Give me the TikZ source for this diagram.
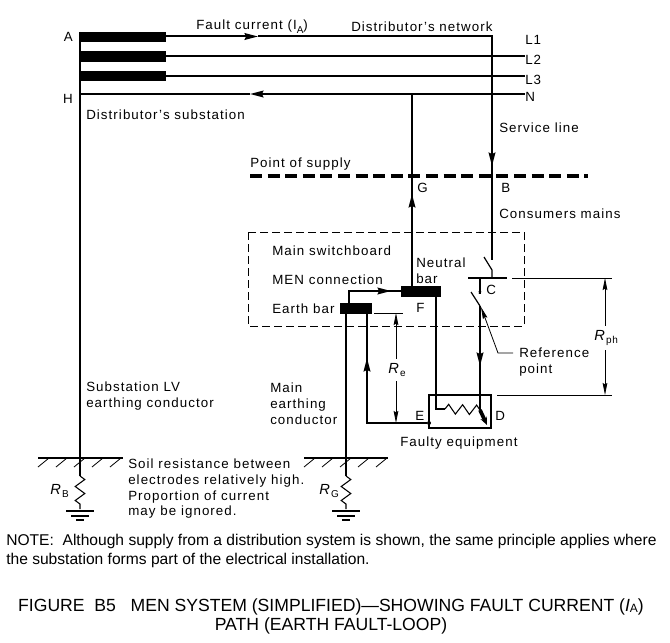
\documentclass[tikz,border=0pt]{standalone}
\usepackage{fontspec}
\setmainfont{Liberation Sans}[LetterSpace=8]
\newfontfamily\notefont{Liberation Sans}
\usetikzlibrary{arrows.meta,decorations.pathmorphing}
\newcommand{\subtxt}[1]{\raisebox{-2.5pt}{\fontsize{7.5}{8}\selectfont #1}}
\begin{document}
\begin{tikzpicture}[x=0.75pt,y=-0.75pt]
\tikzstyle{txt}=[inner sep=0pt,anchor=west,yshift=-0.6pt,font=\fontsize{10}{11.7}\selectfont,align=left];
\tikzstyle{rtxt}=[inner sep=0pt,anchor=west,font=\fontsize{11}{12}\selectfont];
\tikzstyle{notetxt}=[inner sep=0pt,anchor=west,font=\notefont\fontsize{11.7}{14.5}\selectfont,align=left];
\tikzstyle{captxt}=[inner sep=0pt,font=\notefont\fontsize{13.2}{14.3}\selectfont,align=center];
\tikzstyle{bar}=[fill=black,inner sep=0pt];
\tikzstyle{wire}=[line width=1.5pt];
\tikzstyle{fine}=[line width=0.6pt];
\tikzstyle{flow}=[line width=1.5pt,-{Stealth[length=10pt,width=5pt,inset=1pt]}];
\tikzstyle{dim}=[line width=0.6pt,{Stealth[length=9pt,width=3.5pt,inset=1pt]}-{Stealth[length=9pt,width=3.5pt,inset=1pt]}];
\tikzstyle{resist}=[line width=0.8pt,decorate,decoration={zigzag,segment length=10.5pt,amplitude=3.6pt}];
\useasboundingbox (0,0) rectangle (670,642);
% busbars
\node [bar,minimum width=65pt,minimum height=7.5pt] (busA) at (122.5,37) {};
\node [bar,minimum width=65pt,minimum height=8pt] (busB) at (122.5,56.5) {};
\node [bar,minimum width=65pt,minimum height=7.5pt] (busC) at (122.5,76) {};
\coordinate (hN) at (80,94);
\coordinate (top) at (80,32);
\coordinate (gB) at (80,458);
\coordinate (gG) at (346,458);
\node [txt,anchor=east] (lA) at (73,36) {A};
\node [txt,anchor=east] (lH) at (73,98) {H};
\node [txt] (l1) at (525,39) {L1};
\node [txt] (l2) at (525,59) {L2};
\node [txt] (l3) at (525,79) {L3};
\node [txt] (lN) at (525,96) {N};
\node [txt] (fault) at (196,26) {Fault current (I\subtxt{A})};
\node [txt] (network) at (351,26) {Distributor's network};
\node [txt] (subst) at (86,114) {Distributor's substation};
\node [txt] (service) at (499,127) {Service line};
\node [txt] (supply) at (250,163) {Point of supply};
\node [txt] (lG) at (417,187) {G};
\node [txt] (lB) at (501,187) {B};
\node [txt] (mains) at (499,213) {Consumers mains};
\node [txt] (board) at (272,250) {Main switchboard};
\node [txt] (men) at (272,279) {MEN connection};
\node [txt] (ebar) at (272,308) {Earth bar};
\node [txt] (nbar) at (416,270) {Neutral\\bar};
\node [txt] (lC) at (486,289) {C};
\node [txt] (lF) at (416,307) {F};
\node [txt] (lE) at (415,415) {E};
\node [txt] (lD) at (495,415) {D};
\node [txt] (refpt) at (519,361) {Reference\\point};
\node [txt] (faulty) at (400,442) {Faulty equipment};
\node [txt] (lvcond) at (86,395) {Substation LV\\earthing conductor};
\node [txt] (maincond) at (270,403) {Main\\earthing\\conductor};
\node [txt] (soil) at (128,488) {Soil resistance between\\electrodes relatively high.\\Proportion of current\\may be ignored.};
\node [rtxt] (rB) at (50,491) {\textit{R}\subtxt{B}};
\node [rtxt] (rG) at (319,491) {\textit{R}\subtxt{G}};
\node [notetxt] (note) at (6,551) {NOTE:\ \ Although supply from a distribution system is shown, the same principle applies where\\the substation forms part of the electrical installation.};
\node [captxt] (title) at (331,616.5) {FIGURE\ \ B5\ \ \ MEN SYSTEM (SIMPLIFIED)—SHOWING FAULT CURRENT (\textit{I}\raisebox{-1pt}{\fontsize{9}{9}\selectfont A})\\PATH (EARTH FAULT-LOOP)};
% distributor's network
\draw [wire] (top) -- (gB);
\coordinate (t1) at (258,36.5);
\coordinate (corner) at (492,36.5);
\coordinate (t2) at (492,166);
\coordinate (swtop) at (492,260);
\draw [flow] (busA.east |- t1) -- (t1);
\draw [wire] (t1) -- (corner) -- (t2);
\draw [wire] (t2) -- (swtop);
\draw [flow] (corner) -- (t2);
\draw [wire] (busB) -- (l2.west |- busB);
\draw [wire] (busC) -- (l3.west |- busC);
\coordinate (tN) at (250,94);
\coordinate (nj) at (412,94);
\draw [flow] (nj) -- (tN);
\draw [wire] (tN) -- (hN);
\draw [wire] (nj) -- (lN.west |- nj);
% point of supply
\coordinate (ps1) at (250,176);
\coordinate (ps2) at (588,176);
\draw [line width=2.6pt,dash pattern=on 9pt off 4.2pt] (ps1) -- (ps2);
% neutral bar and earth bar
\node [bar,minimum width=30pt,minimum height=8pt] (neutral) at (421,291.5) {};
\node [bar,minimum width=24pt,minimum height=8pt] (earth) at (356,308.5) {};
\coordinate (tG) at (412,194);
\draw [wire] (neutral.north -| nj) -- (nj);
\draw [flow] (neutral.north -| nj) -- (tG);
\draw [fine,dash pattern=on 6pt off 3pt] (248,232) rectangle (524,326);
\coordinate (m1) at (349,291);
\coordinate (tM) at (391,291);
\draw [wire] (earth.north -| m1) -- (m1) -- (neutral.west |- m1);
\draw [flow] (m1) -- (tM);
% equipment
\draw [line width=1.3pt] (429,395) rectangle (491,428);
\node [circle,fill=black,inner sep=0pt,minimum size=3pt] (dotE) at (429,423) {};
\coordinate (nb) at (436,409);
\coordinate (zs) at (445,409);
\coordinate (ze) at (480,410);
\draw [wire] (neutral.south -| nb) -- (nb) -- (zs);
\draw [resist] (zs) -- (ze);
\coordinate (fa) at (480,410);
\coordinate (fb) at (487,425);
\draw [line width=2.8pt,-{Stealth[length=6pt,width=5pt]}] (fa) -- (fb);
% return path
\coordinate (r1) at (367,423);
\coordinate (tR) at (367,358);
\draw [wire] (earth.south -| r1) -- (r1) -- (dotE);
\draw [flow] (r1) -- (tR);
\draw [wire] (earth.south -| gG) -- (gG);
% switches
\coordinate (b1) at (484,257);
\coordinate (b2) at (492,270);
\draw [line width=0.9pt] (b1) -- (b2) -- (492,278);
\coordinate (c1) at (468,278);
\coordinate (c2) at (507,278);
\draw [wire] (c1) -- (c2);
\coordinate (c3) at (480,278);
\coordinate (x1) at (480,294);
\draw [line width=1pt] (c3) -- (x1);
\node [inner sep=0pt,font=\fontsize{7}{7}\selectfont] (star) at (x1) {*};
\coordinate (s1) at (471,292);
\coordinate (s2) at (480,306);
\draw [line width=0.9pt] (s1) -- (s2);
\coordinate (tP) at (480,366);
\draw [wire] (s2) -- (fa);
\draw [flow] (s2) -- (tP);
% dimensions
\coordinate (ph1) at (605,278);
\coordinate (ph2) at (605,395);
\draw [fine] (512,278) -- (612,278);
\draw [fine] (497,395) -- (612,395);
\draw [dim] (ph1) -- (ph2);
\node [rtxt,fill=white,inner ysep=3pt] (rph) at (594,338) {\textit{R}\subtxt{ph}};
\coordinate (re1) at (396,313);
\coordinate (re2) at (396,423);
\draw [fine] (374,313) -- (403,313);
\draw [dim] (re1) -- (re2);
\node [rtxt,fill=white,inner ysep=3pt] (re) at (388,370) {\textit{R}\subtxt{e}};
% reference pointer
\coordinate (rp1) at (513,353);
\coordinate (rp2) at (498,353);
\coordinate (rp3) at (481,307);
\draw [fine,-{Stealth[length=9pt,width=3.5pt,inset=1pt]}] (rp1) -- (rp2) -- (rp3);
% earth electrodes
\draw [wire] (38,457.5) -- (123,457.5);
\draw [wire] (304,457.5) -- (388,457.5);
\foreach \x in {38,56,...,110} \draw [fine] (\x+11,458) -- (\x,467);
\foreach \x in {304,322,...,376} \draw [fine] (\x+11,458) -- (\x,467);
\draw [line width=0.8pt] (gB) -- (80,476);
\draw [resist] (80,476) -- (80,509);
\draw [line width=0.8pt] (gG) -- (346,476);
\draw [resist] (346,476) -- (346,509);
\foreach \x in {80,346} {
\draw [wire] (\x-14,511) -- (\x+14,511);
\draw [wire] (\x-9,516) -- (\x+9,516);
\draw [wire] (\x-4,520) -- (\x+4,520);
}
\end{tikzpicture}
\end{document}
